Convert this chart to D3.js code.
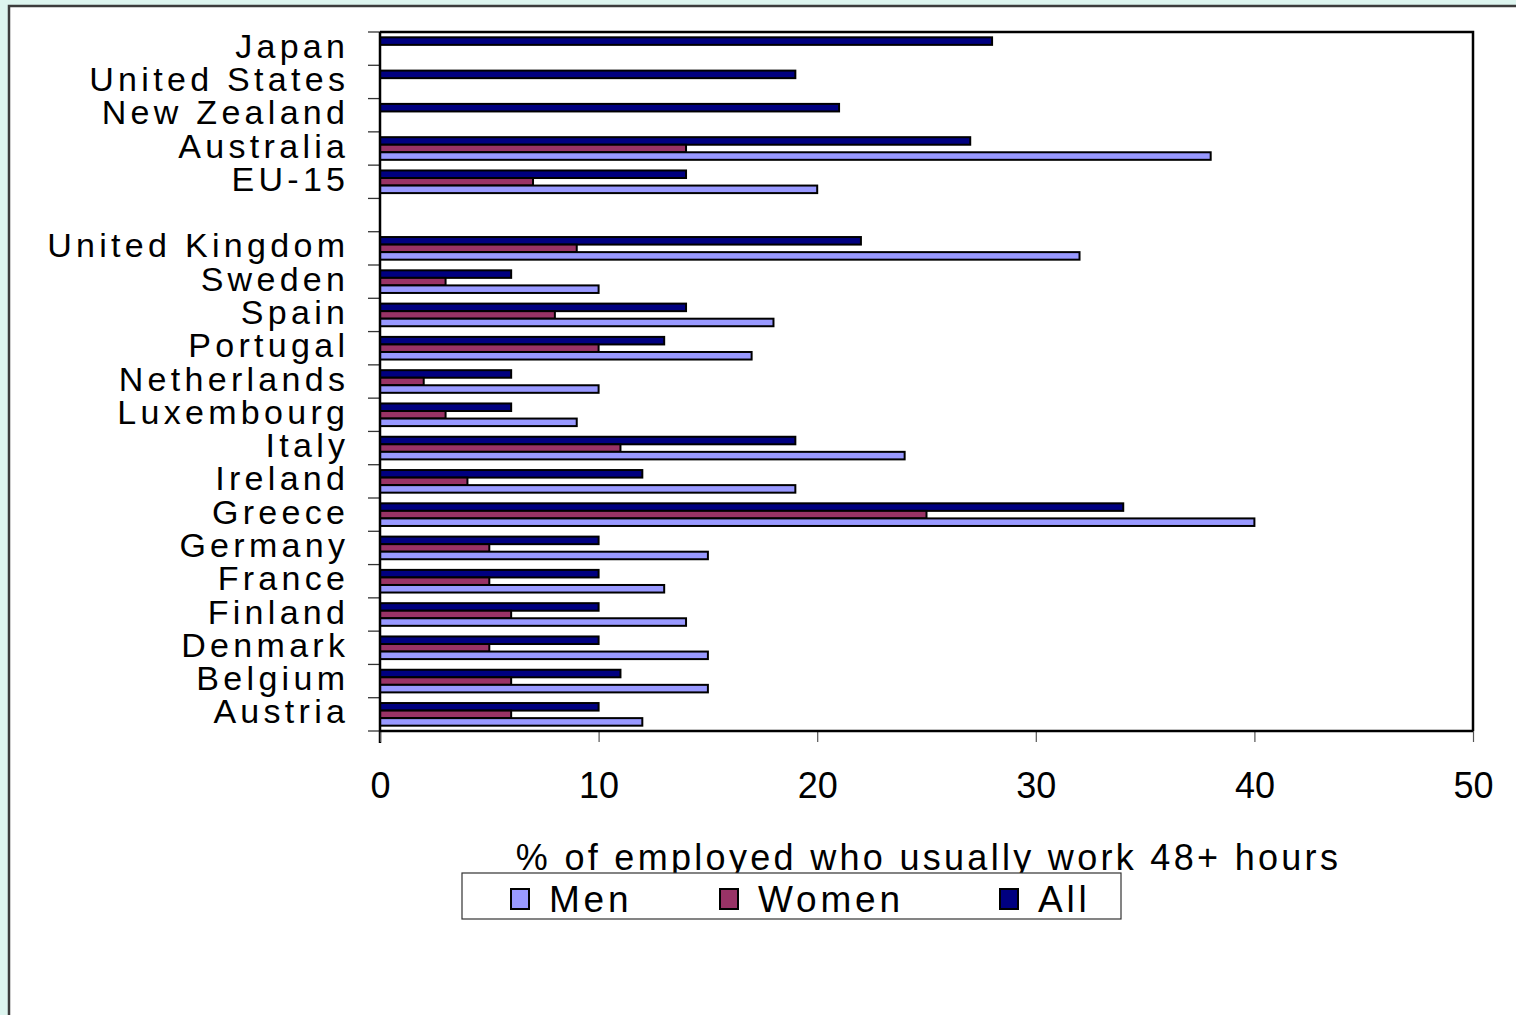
<!DOCTYPE html>
<html>
<head>
<meta charset="utf-8">
<script src="https://cdn.jsdelivr.net/npm/d3@7"></script>
<style>
  html, body { margin: 0; padding: 0; background: #ddf5ef; }
  svg { display: block; }
</style>
</head>
<body>
<svg id="chart" width="1516" height="1015"></svg>
<script>
// Countries top to bottom; the empty slot separates the aggregates from the EU members
const categories = ["Japan", "United States", "New Zealand", "Australia", "EU-15", "",
  "United Kingdom", "Sweden", "Spain", "Portugal", "Netherlands", "Luxembourg", "Italy",
  "Ireland", "Greece", "Germany", "France", "Finland", "Denmark", "Belgium", "Austria"];

// % of employed who usually work 48+ hours
const allValues   = [28, 19, 21, 27, 14, null, 22, 6, 14, 13, 6, 6, 19, 12, 34, 10, 10, 10, 10, 11, 10];
const womenValues = [null, null, null, 14, 7, null, 9, 3, 8, 10, 2, 3, 11, 4, 25, 5, 5, 6, 5, 6, 6];
const menValues   = [null, null, null, 38, 20, null, 32, 10, 18, 17, 10, 9, 24, 19, 40, 15, 13, 14, 15, 15, 12];

const seriesNames = ["All", "Women", "Men"];
const legendOrder = ["Men", "Women", "All"];
const xTicks = [0, 10, 20, 30, 40, 50];
const axisTitle = "% of employed who usually work 48+ hours";

const colors = { All: "#000080", Women: "#993366", Men: "#9999ff" };
const valuesBySeries = { All: allValues, Women: womenValues, Men: menValues };

const svg = d3.select("#chart");
const font = "'Liberation Sans', Arial, sans-serif";

// White panel
svg.append("rect")
  .attr("x", 9).attr("y", 6).attr("width", 1520).attr("height", 1020)
  .attr("fill", "#ffffff").attr("stroke", "#3c3c3c").attr("stroke-width", 2.5);

const plotLeft = 380, plotRight = 1473, plotTop = 32, plotBottom = 731;

const x = d3.scaleLinear().domain([0, 50]).range([plotLeft, plotRight]);

const keys = categories.map((c, i) => i);
const y = d3.scaleBand().domain(keys).range([plotTop, plotBottom])
  .paddingInner(0.32).paddingOuter(0.16);
const step = y.step();

const ySub = d3.scaleBand().domain(seriesNames).range([0, y.bandwidth()]);

// Plot frame: top and right edges
svg.append("path")
  .attr("d", `M${plotLeft},${plotTop}H${plotRight}V${plotBottom}`)
  .attr("fill", "none").attr("stroke", "#000").attr("stroke-width", 2.5);

// Bars
const rows = [];
categories.forEach((c, i) => {
  seriesNames.forEach(s => {
    const v = valuesBySeries[s][i];
    if (v != null) rows.push({ i, s, v });
  });
});

svg.append("g").selectAll("rect").data(rows).join("rect")
  .attr("x", x(0))
  .attr("y", d => y(d.i) + ySub(d.s))
  .attr("width", d => x(d.v) - x(0))
  .attr("height", ySub.bandwidth())
  .attr("fill", d => colors[d.s])
  .attr("stroke", "#000").attr("stroke-width", 2);

// Y axis: boundary ticks between categories
const boundaries = d3.range(categories.length + 1).map(k => plotTop + k * step);
svg.append("g").selectAll("line").data(boundaries).join("line")
  .attr("x1", plotLeft - 12).attr("x2", plotLeft)
  .attr("y1", d => d).attr("y2", d => d)
  .attr("stroke", "#333").attr("stroke-width", 1.3);

svg.append("line")
  .attr("x1", plotLeft).attr("x2", plotLeft).attr("y1", plotTop).attr("y2", plotBottom + 12)
  .attr("stroke", "#000").attr("stroke-width", 2.5);

// Category labels
svg.append("g").selectAll("text").data(categories).join("text")
  .attr("x", 345 + 4.3)
  .attr("y", (d, i) => y(i) + y.bandwidth() / 2 + 9)
  .attr("text-anchor", "end")
  .attr("font-family", font).attr("font-size", 34)
  .attr("letter-spacing", 4.3)
  .attr("fill", "#000")
  .text(d => d);

// X axis
const xAxis = d3.axisBottom(x).tickValues(xTicks).tickSize(11).tickPadding(30);
const gx = svg.append("g").attr("transform", `translate(0,${plotBottom})`).call(xAxis);
gx.select(".domain").remove();
gx.selectAll(".tick line").attr("stroke", "#555").attr("stroke-width", 1.2);
gx.selectAll(".tick text")
  .attr("font-family", font).attr("font-size", 36).attr("fill", "#000");

svg.append("line")
  .attr("x1", plotLeft).attr("x2", plotRight).attr("y1", plotBottom).attr("y2", plotBottom)
  .attr("stroke", "#000").attr("stroke-width", 2.5);

// Axis title
svg.append("text")
  .attr("x", (plotLeft + plotRight) / 2 + 2).attr("y", 870)
  .attr("text-anchor", "middle")
  .attr("font-family", font).attr("font-size", 36)
  .attr("letter-spacing", 3.3)
  .attr("fill", "#000")
  .text(axisTitle);

// Legend
const legend = svg.append("g");
legend.append("rect")
  .attr("x", 462).attr("y", 873).attr("width", 659).attr("height", 46)
  .attr("fill", "#fff").attr("stroke", "#333").attr("stroke-width", 1.2);

const legendX = { Men: 511, Women: 720, All: 1000 };
legendOrder.forEach(s => {
  legend.append("rect")
    .attr("x", legendX[s]).attr("y", 889).attr("width", 18).attr("height", 20)
    .attr("fill", colors[s]).attr("stroke", "#000").attr("stroke-width", 2);
  legend.append("text")
    .attr("x", legendX[s] + 38).attr("y", 912)
    .attr("font-family", font).attr("font-size", 37)
    .attr("letter-spacing", 3.8)
    .attr("fill", "#000")
    .text(s);
});
</script>
</body>
</html>
